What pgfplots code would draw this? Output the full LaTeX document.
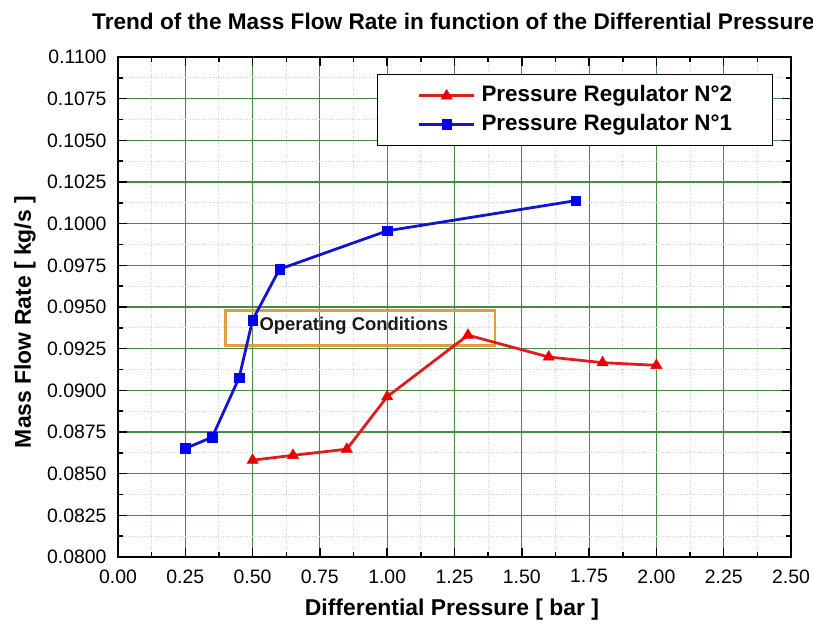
\documentclass[border=0pt]{standalone}
\usepackage{fontspec}
\setmainfont{Liberation Sans}
\usepackage{pgfplots}
\usepackage{pgfplotstable}
\pgfplotsset{compat=1.18}

\definecolor{gridgreen}{RGB}{70,138,70}
\definecolor{minorgrid}{RGB}{205,218,205}
\definecolor{regblue}{RGB}{20,20,205}
\definecolor{markblue}{RGB}{0,0,240}
\definecolor{regred}{RGB}{220,30,30}
\definecolor{markred}{RGB}{235,0,0}
\definecolor{boxorange}{RGB}{222,160,60}

% Pressure Regulator N°1: differential pressure [bar] vs mass flow rate [kg/s]
\pgfplotstableread{
dp    mfr
0.25  0.08651
0.35  0.08719
0.45  0.09076
0.50  0.09422
0.60  0.09727
1.00  0.09957
1.70  0.10138
}\regone

% Pressure Regulator N°2
\pgfplotstableread{
dp    mfr
0.50  0.08581
0.65  0.08610
0.85  0.08647
1.00  0.08962
1.30  0.09331
1.60  0.09200
1.80  0.09166
2.00  0.09150
}\regtwo

\begin{document}
\begin{tikzpicture}
\useasboundingbox (-118bp,-71bp) rectangle (695bp,557bp);
\begin{axis}[
  at={(0,0)}, anchor=south west,
  scale only axis, width=673bp, height=500bp,
  xmin=0, xmax=2.5, ymin=0.08, ymax=0.11,
  xtick={0,0.25,0.5,0.75,1,1.25,1.5,1.75,2,2.25,2.5},
  ytick={0.08,0.0825,0.085,0.0875,0.09,0.0925,0.095,0.0975,0.1,0.1025,0.105,0.1075,0.11},
  minor x tick num=1, minor y tick num=1,
  grid=both,
  major grid style={gridgreen, line width=1.1bp},
  minor grid style={minorgrid, dotted, line width=1bp},
  tick align=inside,
  major tick length=9bp, minor tick length=5bp,
  every tick/.style={black, line width=1.5bp},
  axis line style={line width=2.5bp},
  /pgf/number format/assume math mode=true,
  scaled y ticks=false, scaled x ticks=false,
  tick label style={font=\fontsize{19.5}{19.5}\selectfont},
  xticklabel style={yshift=-9bp, /pgf/number format/.cd, fixed, fixed zerofill, precision=2},
  yticklabel style={xshift=-8bp, /pgf/number format/.cd, fixed, fixed zerofill, precision=4},
  legend cell align=left,
  legend image code/.code={\draw[mark repeat=2,mark phase=2,#1] plot coordinates {(0bp,0bp) (27.5bp,0bp) (55bp,0bp)};},
  legend style={
    at={(0.385,0.966)}, anchor=north west,
    draw=black, line width=1.2bp, fill=white,
    inner xsep=40bp, inner ysep=11bp, row sep=8bp,
    font=\bfseries\fontsize{22.5}{22.5}\selectfont,
    nodes={inner xsep=0bp, inner ysep=0bp, text height=16bp, text depth=4.5bp},
    /tikz/every odd column/.append style={column sep=6bp},
  },
]
% operating conditions window
\draw[boxorange, line width=2.5bp] (axis cs:0.4,0.0927) rectangle (axis cs:1.4,0.0948);
\node[font=\bfseries\fontsize{18.5}{18.5}\selectfont, text=black!90] at (axis cs:0.876,0.09386) {Operating Conditions};

\addplot[regred, line width=2.8bp, mark=triangle*, mark size=6.5bp,
  mark options={solid, fill=markred, draw=markred, line width=0.4bp}]
  table[x=dp, y=mfr] {\regtwo};
\addlegendentry{Pressure Regulator N°2}

\addplot[regblue, line width=2.8bp, mark=square*, mark size=4.8bp,
  mark options={solid, fill=markblue, draw=markblue, line width=0.4bp}]
  table[x=dp, y=mfr] {\regone};
\addlegendentry{Pressure Regulator N°1}
\end{axis}

% titles and axis labels
\node[anchor=base west, inner sep=0pt, font=\bfseries\fontsize{22.7}{22.7}\selectfont]
  at (-26bp,527bp) {Trend of the Mass Flow Rate in function of the Differential Pressure};
\node[rotate=90, inner sep=0pt, font=\bfseries\fontsize{23}{23}\selectfont]
  at (-93bp,235bp) {Mass Flow Rate [ kg/s ]};
\node[inner sep=0pt, font=\bfseries\fontsize{23}{23}\selectfont]
  at (334bp,-53bp) {Differential Pressure [ bar ]};
\end{tikzpicture}
\end{document}
